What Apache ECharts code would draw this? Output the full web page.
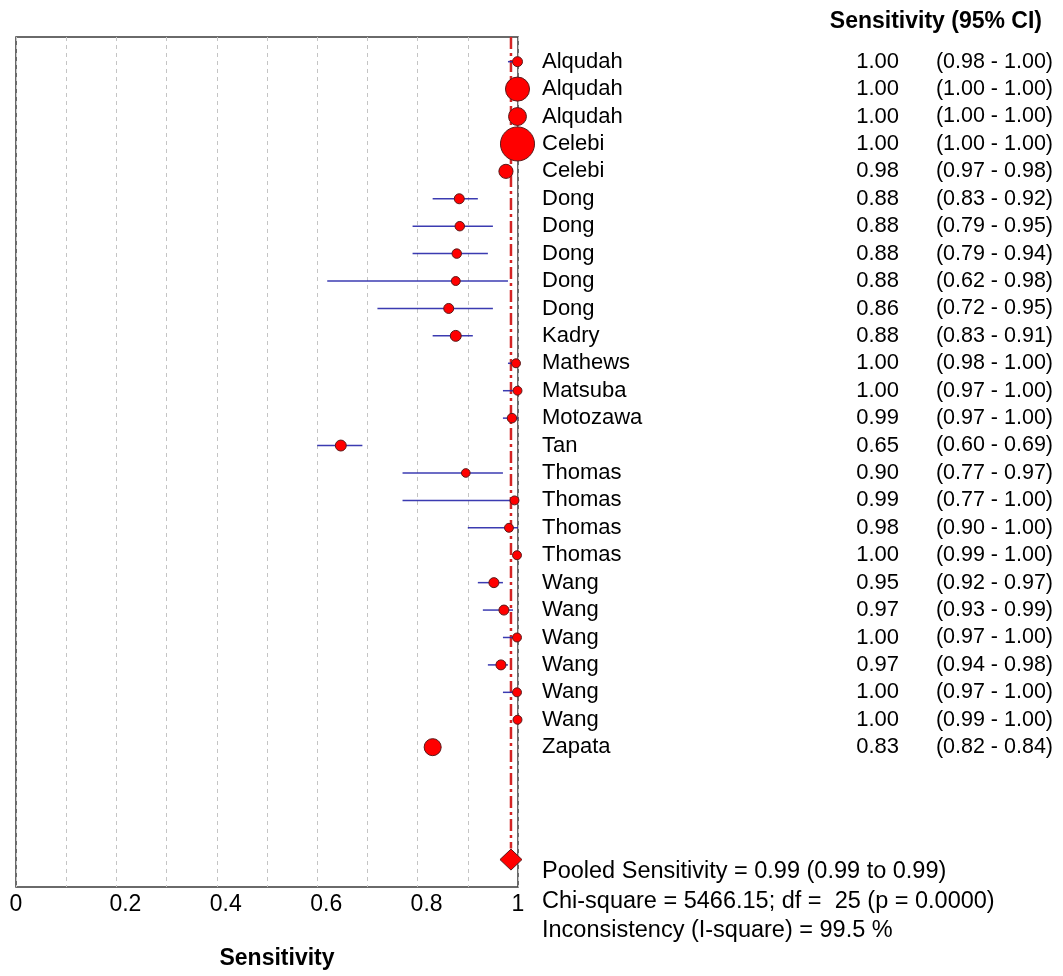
<!DOCTYPE html>
<html>
<head>
<meta charset="utf-8">
<script src="https://cdn.jsdelivr.net/npm/echarts@6/dist/echarts.min.js"></script>
<style>
html,body{margin:0;padding:0;background:#fff;}
#chart{width:1063px;height:976px;}
</style>
</head>
<body>
<div id="chart"></div>
<script>
const studies = ['Alqudah','Alqudah','Alqudah','Celebi','Celebi','Dong','Dong','Dong','Dong','Dong','Kadry','Mathews','Matsuba','Motozawa','Tan','Thomas','Thomas','Thomas','Thomas','Wang','Wang','Wang','Wang','Wang','Wang','Zapata'];
const sensitivity = [0.999,0.999,0.999,0.999,0.976,0.883,0.884,0.878,0.876,0.862,0.876,0.996,0.999,0.988,0.647,0.896,0.993,0.982,0.998,0.952,0.972,0.998,0.966,0.998,0.999,0.830];
const ciLow  = [0.98,1.00,1.00,1.00,0.97,0.83,0.79,0.79,0.62,0.72,0.83,0.98,0.97,0.97,0.60,0.77,0.77,0.90,0.99,0.92,0.93,0.97,0.94,0.97,0.99,0.82];
const ciHigh = [1.00,1.00,1.00,1.00,0.98,0.92,0.95,0.94,0.98,0.95,0.91,1.00,1.00,1.00,0.69,0.97,1.00,1.00,1.00,0.97,0.99,1.00,0.98,1.00,1.00,0.84];
const studyWeight = [1.0,5.8,3.2,11.6,2.0,1.0,0.9,0.9,0.8,1.0,1.2,0.8,0.8,0.9,1.2,0.75,0.8,0.8,0.8,1.0,1.0,0.8,1.0,0.8,0.8,2.9];
const pooled = {est:0.986, low:0.99, high:0.99, label:'0.99'};
const statLines = [
  'Pooled Sensitivity = 0.99 (0.99 to 0.99)',
  'Chi-square = 5466.15; df =  25 (p = 0.0000)',
  'Inconsistency (I-square) = 99.5 %'
];
const xTicks = [0,0.2,0.4,0.6,0.8,1];

const FONT = "'Liberation Sans', Arial, sans-serif";
const pooledRow = studies.length + 3.1;

const rows = studies.map((s,i)=>[i, ciLow[i], ciHigh[i]]);
const points = studies.map((s,i)=>({value:[sensitivity[i], i], symbolSize: 10*Math.sqrt(studyWeight[i])}));
const textRows = studies.map((s,i)=>[1, i, s, sensitivity[i].toFixed(2), '(' + ciLow[i].toFixed(2) + ' - ' + ciHigh[i].toFixed(2) + ')']);

const chart = echarts.init(document.getElementById('chart'));
chart.setOption({
  animation:false,
  backgroundColor:'#fff',
  textStyle:{fontFamily:FONT},
  title:{
    text:'Sensitivity (95% CI)',
    right:16, top:5,
    textStyle:{fontFamily:FONT, fontSize:23, fontWeight:'bold', color:'#000'}
  },
  grid:{left:16, right:545, top:37, bottom:89, show:true, borderColor:'#3a3a3a', borderWidth:1.5, backgroundColor:'transparent'},
  xAxis:{
    type:'value', min:0, max:1, interval:0.1,
    axisLine:{show:false}, axisTick:{show:false},
    splitLine:{show:true, lineStyle:{color:'#c4c4c4', type:[4,4], width:1}},
    axisLabel:{
      fontFamily:FONT, fontSize:23, color:'#000', margin:6,
      align:'center',
      formatter:function(v){
        const t = Math.round(v*10)/10;
        if (!xTicks.some(x=>Math.abs(x-t)<1e-6)) return '';
        if (t === 0 || t === 1) return String(t);
        return '{m|' + t + '}';
      },
      rich:{m:{fontFamily:FONT, fontSize:23, color:'#000', padding:[0,0,0,18]}}
    },
    name:'Sensitivity', nameLocation:'middle', nameGap:60,
    nameTextStyle:{fontFamily:FONT, fontSize:23, fontWeight:'bold', color:'#000', padding:[0,0,0,20]}
  },
  yAxis:{
    type:'value', inverse:true, min:-0.9, max:30.1,
    show:false, splitLine:{show:false}
  },
  series:[
    {
      type:'line', data:[[pooled.est,-0.9],[pooled.est,pooledRow-0.4]],
      symbol:'none', z:2,
      lineStyle:{color:'#d42424', width:2.5, type:[12,4,3,4]}
    },
    {
      type:'custom', z:3,
      data:rows,
      encode:{x:[1,2], y:0},
      renderItem:function(params, api){
        const a = api.coord([api.value(1), api.value(0)]);
        const b = api.coord([api.value(2), api.value(0)]);
        return {type:'line', shape:{x1:a[0], y1:a[1], x2:b[0], y2:b[1]},
          style:{stroke:'#2626a8', lineWidth:1.5, opacity:0.9}};
      }
    },
    {
      type:'scatter', z:4,
      data:points, symbol:'circle',
      itemStyle:{color:'#ff0000', borderColor:'#5a1a1a', borderWidth:1, opacity:1}
    },
    {
      type:'custom', z:3,
      data:[[pooled.est, pooledRow]],
      encode:{x:0, y:1},
      renderItem:function(params, api){
        const c = api.coord([api.value(0), api.value(1)]);
        return {type:'polygon', shape:{points:[[c[0]-11,c[1]],[c[0],c[1]-10.5],[c[0]+11,c[1]],[c[0],c[1]+10.5]]},
          style:{fill:'#ff0000', stroke:'#5a1a1a', lineWidth:1}};
      }
    },
    {
      type:'custom', z:5,
      data:textRows,
      encode:{x:0, y:1},
      renderItem:function(params, api){
        const c = api.coord([api.value(0), api.value(1)]);
        const d = textRows[params.dataIndex];
        const base = {fontFamily:FONT, fill:'#000', verticalAlign:'middle'};
        return {type:'group', children:[
          {type:'text', style:Object.assign({}, base, {x:c[0]+24, y:c[1], text:d[2], align:'left', fontSize:22})},
          {type:'text', style:Object.assign({}, base, {x:c[0]+381, y:c[1], text:d[3], align:'right', fontSize:22})},
          {type:'text', style:Object.assign({}, base, {x:c[0]+535, y:c[1], text:d[4], align:'right', fontSize:21.5})}
        ]};
      }
    }
  ],
  graphic:[
    {type:'text', left:542, top:857, style:{text:statLines.join('\n'), fontFamily:FONT, fontSize:23.5, lineHeight:29.5, fill:'#000'}}
  ]
});
</script>
</body>
</html>
